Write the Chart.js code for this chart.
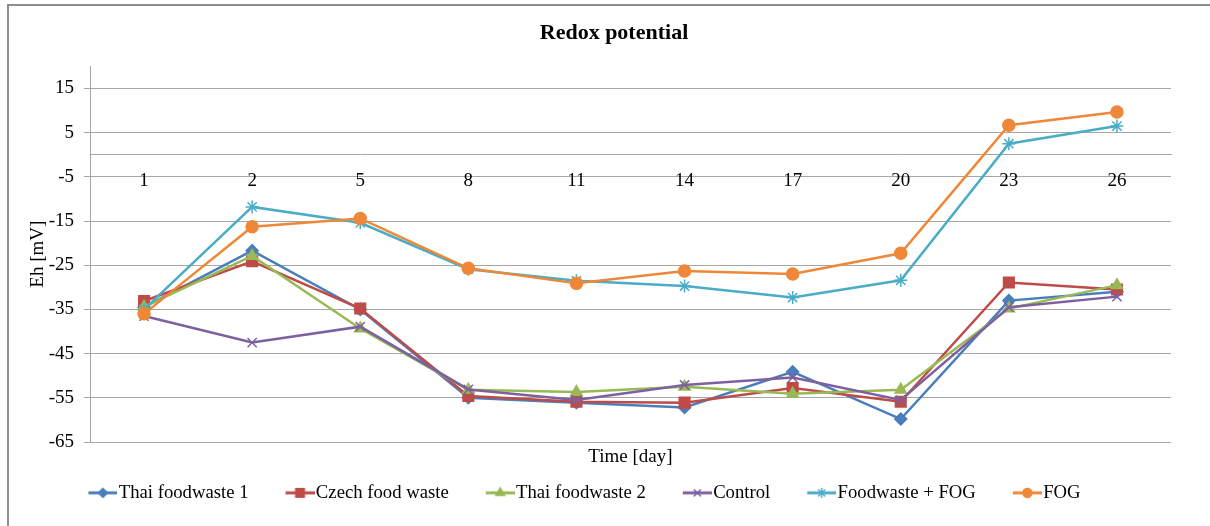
<!doctype html>
<html lang="en">
<head>
<meta charset="utf-8">
<title>Redox potential</title>
<script src="https://cdn.jsdelivr.net/npm/chart.js@4.4.1/dist/chart.umd.min.js"></script>
<style>
  html,body{margin:0;padding:0;background:#fff;overflow:hidden}
  .wrap{position:relative;width:1210px;height:526px}
  .frame{position:absolute;left:7px;top:4px;width:1300px;height:600px;border-top:2px solid #8e8e8e;border-left:2px solid #8e8e8e;pointer-events:none}
</style>
</head>
<body>
<div class="wrap">
  <canvas id="chart"></canvas>
  <div class="frame"></div>
</div>
<script>
  // Eh readings per sampling day
  const days = ["1", "2", "5", "8", "11", "14", "17", "20", "23", "26"];
  const yTicks = [-65, -55, -45, -35, -25, -15, -5, 5, 15];
  const yMin = -65, yMax = 20;

  const thai1   = [-34.5, -21.7, -35.0, -55.0, -56.1, -57.2, -49.1, -59.8, -33.0, -31.0];
  const czech   = [-33.1, -24.1, -34.8, -54.6, -55.9, -56.1, -52.8, -55.9, -28.9, -30.5];
  const thai2   = [-34.4, -22.9, -39.3, -53.2, -53.7, -52.5, -54.1, -53.2, -34.8, -29.5];
  const control = [-36.5, -42.5, -38.9, -53.1, -55.5, -52.1, -50.4, -55.5, -34.5, -32.1];
  const fwFog   = [-35.0, -11.8, -15.4, -25.9, -28.5, -29.7, -32.3, -28.4, 2.5, 6.5];
  const fog     = [-36.0, -16.3, -14.4, -25.7, -29.1, -26.3, -27.0, -22.3, 6.7, 9.7];

  const SERIF = "'Times New Roman', 'Liberation Serif', serif";
  const GRID = "#a6a6a6";

  const series = [
    { label: "Thai foodwaste 1", data: thai1,   color: "#4a7ebb", style: "rectRot",  r: 6,   lr: 4.5 },
    { label: "Czech food waste", data: czech,   color: "#be4b48", style: "rect",     r: 7.5, lr: 6 },
    { label: "Thai foodwaste 2", data: thai2,   color: "#98b954", style: "triangle", r: 6.5, lr: 5 },
    { label: "Control",          data: control, color: "#7d60a0", style: "crossRot", r: 6.5, lr: 5 },
    { label: "Foodwaste + FOG",  data: fwFog,   color: "#4bacc6", style: "star",     r: 6.5, lr: 5 },
    { label: "FOG",              data: fog,     color: "#ee8838", style: "circle",   r: 6,   lr: 4.5 },
  ];

  // legend icon: short line with the marker in the middle, sitting at the right of a wider box
  const LEG_BOX = 43, LEG_W = 59, LEG_LINE = 29;
  function legendIcon(s) {
    const c = document.createElement("canvas");
    c.width = LEG_W; c.height = 16;
    const g = c.getContext("2d");
    g.strokeStyle = s.color; g.fillStyle = s.color; g.lineWidth = 3;
    g.beginPath(); g.moveTo(LEG_W - LEG_LINE, 8); g.lineTo(LEG_W, 8); g.stroke();
    g.lineWidth = 1.5;
    Chart.helpers.drawPoint(g, { pointStyle: s.style, radius: s.lr, rotation: 0, borderWidth: 1.5 }, LEG_W - LEG_LINE / 2, 8);
    return c;
  }
  const icons = series.map(legendIcon);

  // Excel places the title and legend off the canvas centre; nudge them sideways
  const nudge = {
    id: "nudge",
    afterLayout(chart) {
      const move = (box, dx) => { box.left += dx; box.right += dx; };
      move(chart.titleBlock, 28.5);
      move(chart.legend, -12);
    },
  };

  new Chart(document.getElementById("chart"), {
    type: "line",
    data: {
      labels: days,
      datasets: series.map((s, i) => ({
        label: s.label,
        data: s.data,
        borderColor: s.color,
        backgroundColor: s.color,
        pointBackgroundColor: s.color,
        pointBorderColor: s.color,
        pointStyle: s.style,
        pointRadius: s.r,
        pointBorderWidth: 1.5,
        borderWidth: 2.5,
        tension: 0,
        order: series.length - i,
        xAxisID: "x",
        yAxisID: "y",
      })),
    },
    plugins: [nudge],
    options: {
      responsive: true,
      maintainAspectRatio: false,
      animation: false,
      layout: { padding: { left: 0, right: 39, top: 0, bottom: 13.8 } },
      plugins: {
        title: {
          display: true, text: "Redox potential", color: "#000",
          font: { family: SERIF, size: 22, weight: "bold" },
          padding: { top: 20, bottom: 20 },
        },
        tooltip: { enabled: false },
        legend: {
          position: "bottom",
          labels: {
            usePointStyle: true,
            pointStyleWidth: LEG_BOX,
            padding: 15,
            color: "#000",
            font: { family: SERIF, size: 18.7 },
            sort: (a, b) => a.datasetIndex - b.datasetIndex,
            generateLabels: (chart) =>
              Chart.defaults.plugins.legend.labels.generateLabels(chart)
                .map((it) => ({ ...it, pointStyle: icons[it.datasetIndex] })),
          },
        },
      },
      scales: {
        y: {
          min: yMin, max: yMax,
          afterBuildTicks: (s) => { s.ticks = yTicks.map((v) => ({ value: v })); },
          afterFit: (s) => { s.width = 90; },
          grid: { color: GRID, tickLength: 6, lineWidth: 1 },
          border: { color: GRID },
          ticks: { color: "#000", padding: 10, font: { family: SERIF, size: 19 } },
          title: {
            display: true, text: "Eh [mV]", color: "#000",
            font: { family: SERIF, size: 19 },
            padding: { top: 26.5, bottom: 0 },
          },
        },
        x: {
          type: "category",
          offset: true,
          grid: { display: false, drawTicks: false },
          border: { display: false },
          ticks: { display: false },
          title: {
            display: true, text: "Time [day]", color: "#000",
            font: { family: SERIF, size: 19 },
            padding: { top: 3.7, bottom: 0 },
          },
        },
        x2: {
          type: "category",
          offset: true,
          position: { y: 0 },
          grid: { display: false, drawTicks: false },
          border: { display: true, color: GRID, width: 1 },
          ticks: { color: "#000", padding: 15, font: { family: SERIF, size: 19 } },
        },
      },
    },
  });
</script>
</body>
</html>
